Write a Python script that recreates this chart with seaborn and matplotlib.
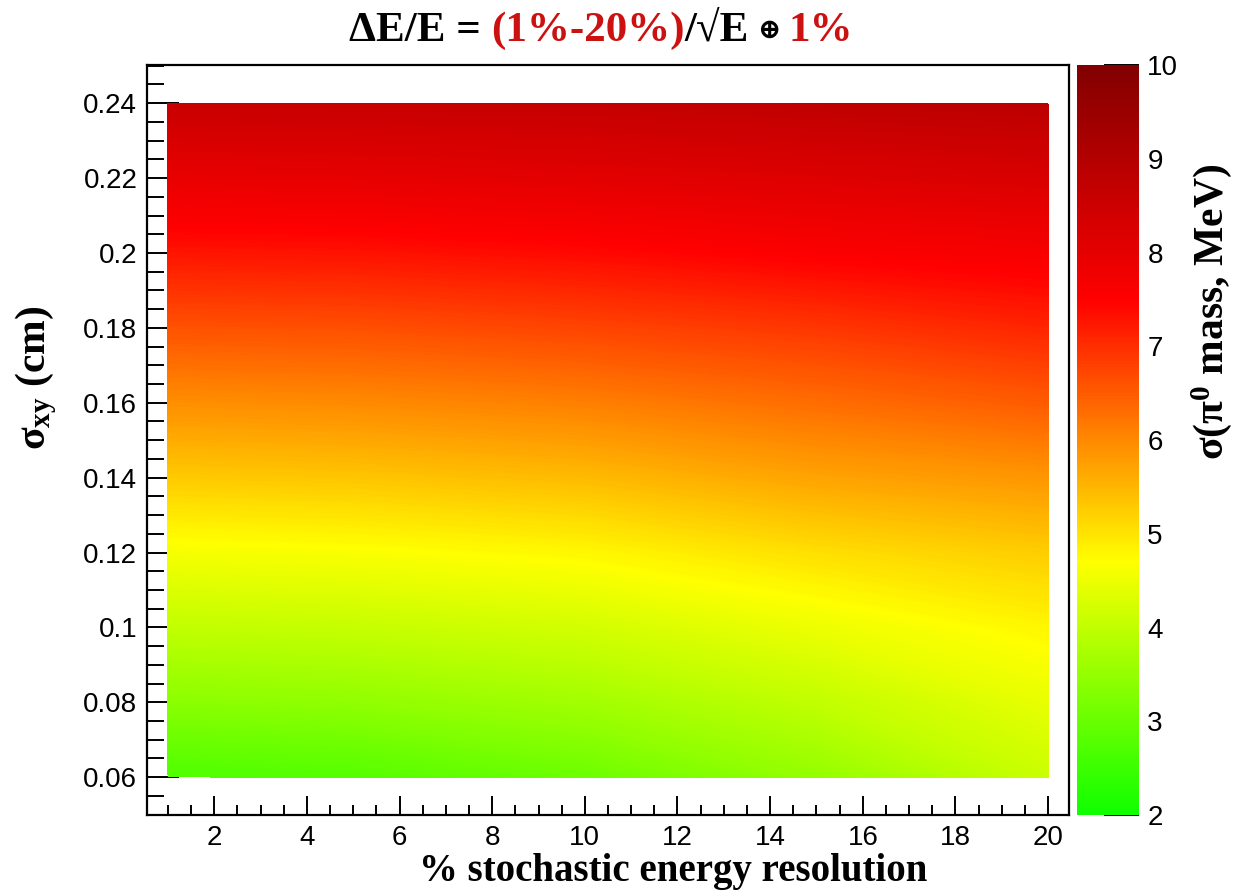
import numpy as np
import pandas as pd
import matplotlib
matplotlib.use("Agg")
import matplotlib.pyplot as plt
import seaborn as sns
from matplotlib.colors import LinearSegmentedColormap, Normalize
from matplotlib.cm import ScalarMappable
from matplotlib.ticker import MultipleLocator, FuncFormatter

# Grid of the scan: stochastic term (%) and transverse position resolution (cm)
energy_res = [1, 5, 10, 15, 20]
sigma_xy = [0.06, 0.08, 0.10, 0.12, 0.14, 0.16, 0.18, 0.20, 0.22, 0.24]

# pi0 mass resolution (MeV), one list per stochastic-term value, ordered like sigma_xy
mass_res_e1 = [2.70, 3.38, 4.00, 4.60, 5.28, 5.93, 6.60, 7.27, 7.93, 8.58]
mass_res_e5 = [2.78, 3.45, 4.05, 4.65, 5.33, 5.98, 6.63, 7.30, 7.97, 8.60]
mass_res_e10 = [3.05, 3.65, 4.20, 4.78, 5.45, 6.10, 6.75, 7.40, 8.05, 8.65]
mass_res_e15 = [3.50, 4.00, 4.50, 5.05, 5.70, 6.30, 6.90, 7.55, 8.15, 8.75]
mass_res_e20 = [4.10, 4.45, 4.80, 5.25, 5.85, 6.50, 7.10, 7.65, 8.25, 8.85]

cbar_ticks = [2, 3, 4, 5, 6, 7, 8, 9, 10]

sns.set_theme(style="ticks")
plt.rcParams["font.family"] = ["Liberation Sans", "DejaVu Sans"]
plt.rcParams["text.color"] = "black"
plt.rcParams["mathtext.fontset"] = "custom"
plt.rcParams["mathtext.rm"] = "Liberation Serif:bold"
plt.rcParams["mathtext.it"] = "Liberation Serif:bold"
plt.rcParams["mathtext.bf"] = "Liberation Serif:bold"

columns = [mass_res_e1, mass_res_e5, mass_res_e10, mass_res_e15, mass_res_e20]
df = pd.DataFrame(
    [(e, s, v) for e, col in zip(energy_res, columns) for s, v in zip(sigma_xy, col)],
    columns=["energy_res", "sigma_xy", "mass_res"],
)
table = df.pivot(index="sigma_xy", columns="energy_res", values="mass_res")

# green -> yellow -> red -> dark red palette
cmap = LinearSegmentedColormap.from_list(
    "gyr",
    [(0.0, "#10ff00"), (0.3375, "#ffff00"), (0.6875, "#ff0000"), (1.0, "#820000")],
)
norm = Normalize(vmin=2, vmax=10)

W, H = 1234, 890
fig = plt.figure(figsize=(W / 100, H / 100), dpi=100)
fig.patch.set_facecolor("white")

def px_rect(l, t, r, b):
    return [l / W, 1 - b / H, (r - l) / W, (b - t) / H]

ax = fig.add_axes(px_rect(147, 65, 1069, 815))
cax = fig.add_axes(px_rect(1077, 65, 1139, 815))

X, Y = np.meshgrid(table.columns.values, table.index.values)
levels = np.linspace(2, 10, 401)
ax.contourf(X, Y, table.values, levels=levels, cmap=cmap, norm=norm, antialiased=False)

ax.set_xlim(0.55, 20.45)
ax.set_ylim(0.0499, 0.2502)
ax.set_facecolor("white")
ax.xaxis.set_major_locator(MultipleLocator(2))
ax.xaxis.set_minor_locator(MultipleLocator(0.5))
ax.yaxis.set_major_locator(MultipleLocator(0.02))
ax.yaxis.set_minor_locator(MultipleLocator(0.005))
ax.yaxis.set_major_formatter(FuncFormatter(lambda v, p: f"{v:.2f}".rstrip("0")))
ax.tick_params(axis="y", which="major", direction="in", length=23, width=1.4,
               labelsize=20, pad=7, color="black", labelcolor="black")
ax.tick_params(axis="y", which="minor", direction="in", length=12, width=1.4, color="black")
ax.tick_params(axis="x", which="major", direction="in", length=14, width=1.4,
               labelsize=20, pad=7, color="black", labelcolor="black")
ax.tick_params(axis="x", which="minor", direction="in", length=7, width=1.4, color="black")
for sp in ax.spines.values():
    sp.set_visible(True)
    sp.set_linewidth(1.6)
    sp.set_color("black")

# colour scale
cb = fig.colorbar(ScalarMappable(norm=norm, cmap=cmap), cax=cax)
cb.outline.set_visible(False)
cb.set_ticks(cbar_ticks)
cax.yaxis.set_ticks_position("right")
cax.tick_params(axis="y", direction="in", length=25, width=1.4, labelsize=20, pad=6,
                color="black", labelcolor="black")
cax.minorticks_off()

serif_bold = dict(family=["Liberation Serif", "DejaVu Serif"], weight="bold", color="black")

fig.text(673 / W, 1 - 871 / H, "% stochastic energy resolution", ha="center", va="center",
         fontsize=28, **serif_bold)
fig.text(36 / W, 1 - 378 / H, r"$\mathrm{\sigma_{xy}}$ (cm)", ha="center", va="center",
         rotation=90, fontsize=30, **serif_bold)
fig.text(1212 / W, 1 - 312 / H, r"$\mathrm{\sigma(\pi^{0}}$ mass, MeV)", ha="center", va="center",
         rotation=90, fontsize=30, **serif_bold)

# multi-coloured title
red = "#cc1111"
pieces = [
    ("ΔE/E =", "black", 31, 10),
    ("(1%-20%)", red, 31, 0),
    ("/√E", "black", 31, 8),
    ("⊕", "black", 20, 8),
    ("1%", red, 31, 0),
]
title_y = 1 - 31 / H
texts = [fig.text(0, title_y, s, fontsize=fs, ha="left", va="center",
                  family=["Liberation Serif", "DejaVu Serif"], weight="bold", color=c)
         for s, c, fs, _ in pieces]
renderer = fig.canvas.get_renderer()
widths = [t.get_window_extent(renderer).width for t in texts]
total = sum(widths) + sum(p[3] for p in pieces[:-1])
x = 601 - total / 2
for t, w, p in zip(texts, widths, pieces):
    t.set_x(x / W)
    x += w + p[3]

fig.savefig("out.png", dpi=100, facecolor="white")
